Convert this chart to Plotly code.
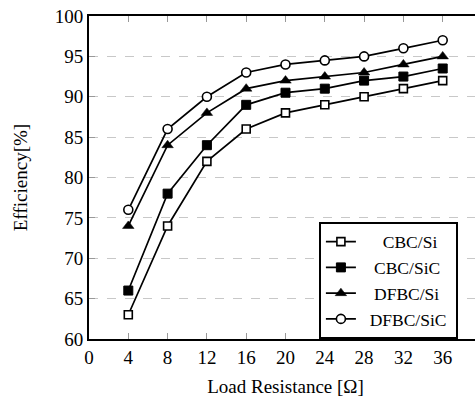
import plotly.graph_objects as go

load = [4, 8, 12, 16, 20, 24, 28, 32, 36]
cbc_si = [63, 74, 82, 86, 88, 89, 90, 91, 92]
cbc_sic = [66, 78, 84, 89, 90.5, 91, 92, 92.5, 93.5]
dfbc_si = [74, 84, 88, 91, 92, 92.5, 93, 94, 95]
dfbc_sic = [76, 86, 90, 93, 94, 94.5, 95, 96, 97]

x_ticks = [0, 4, 8, 12, 16, 20, 24, 28, 32, 36]
y_ticks = [60, 65, 70, 75, 80, 85, 90, 95, 100]

names = ["CBC/Si", "CBC/SiC", "DFBC/Si", "DFBC/SiC"]
NB = "\u00a0"
lead = [5, 3, 3, 2]
trail = [0, 0, 0, 1]

series = [
    (cbc_si, dict(symbol="square", size=8, color="white", line=dict(color="black", width=1.6))),
    (cbc_sic, dict(symbol="square", size=9, color="black", line=dict(color="black", width=1))),
    (dfbc_si, dict(symbol="triangle-up", size=10, color="black", line=dict(color="black", width=0.5))),
    (dfbc_sic, dict(symbol="circle", size=9, color="white", line=dict(color="black", width=1.6))),
]

fig = go.Figure()
for i, (vals, mk) in enumerate(series):
    label = NB * lead[i] + names[i] + NB * trail[i]
    fig.add_trace(go.Scatter(x=load, y=vals, name=label, mode="lines+markers",
                             line=dict(color="black", width=1.7), marker=mk))

fam = "Liberation Serif, Times New Roman, serif"
font = dict(family=fam, size=19, color="black")

fig.update_layout(
    width=482, height=398,
    margin=dict(l=89, r=0, t=16, b=59, autoexpand=False),
    paper_bgcolor="white", plot_bgcolor="white",
    font=font,
    showlegend=True,
    legend=dict(x=0.585, y=0.363, xanchor="left", yanchor="top",
                bordercolor="black", borderwidth=2, bgcolor="white",
                font=dict(family=fam, size=17.5, color="black"),
                itemwidth=30, tracegroupgap=0),
)
fig.update_xaxes(
    range=[0, 40], tickvals=x_ticks, ticktext=[str(v) for v in x_ticks],
    showgrid=False, zeroline=False,
    showline=True, linecolor="black", linewidth=2, mirror="allticks",
    ticks="inside", ticklen=6, tickcolor="#999999", tickwidth=1,
    title=dict(text="Load Resistance [Ω]", standoff=13, font=dict(family=fam, size=19, color="black")),
    tickfont=dict(family=fam, size=19, color="black"),
)
fig.update_yaxes(
    range=[60, 100], tickvals=y_ticks, ticktext=[str(v) for v in y_ticks],
    showgrid=True, gridcolor="#c8c8c8", griddash="dash", gridwidth=1,
    zeroline=False,
    showline=True, linecolor="black", linewidth=2, mirror="allticks",
    ticks="inside", ticklen=6, tickcolor="#999999", tickwidth=1,
    title=dict(text="Efficiency[%]", standoff=22, font=dict(family=fam, size=19, color="black")),
    tickfont=dict(family=fam, size=19, color="black"),
)

fig.write_html("out.html",
               post_script="document.documentElement.style.overflow='hidden';document.body.style.margin='0';document.body.style.overflow='hidden';")
